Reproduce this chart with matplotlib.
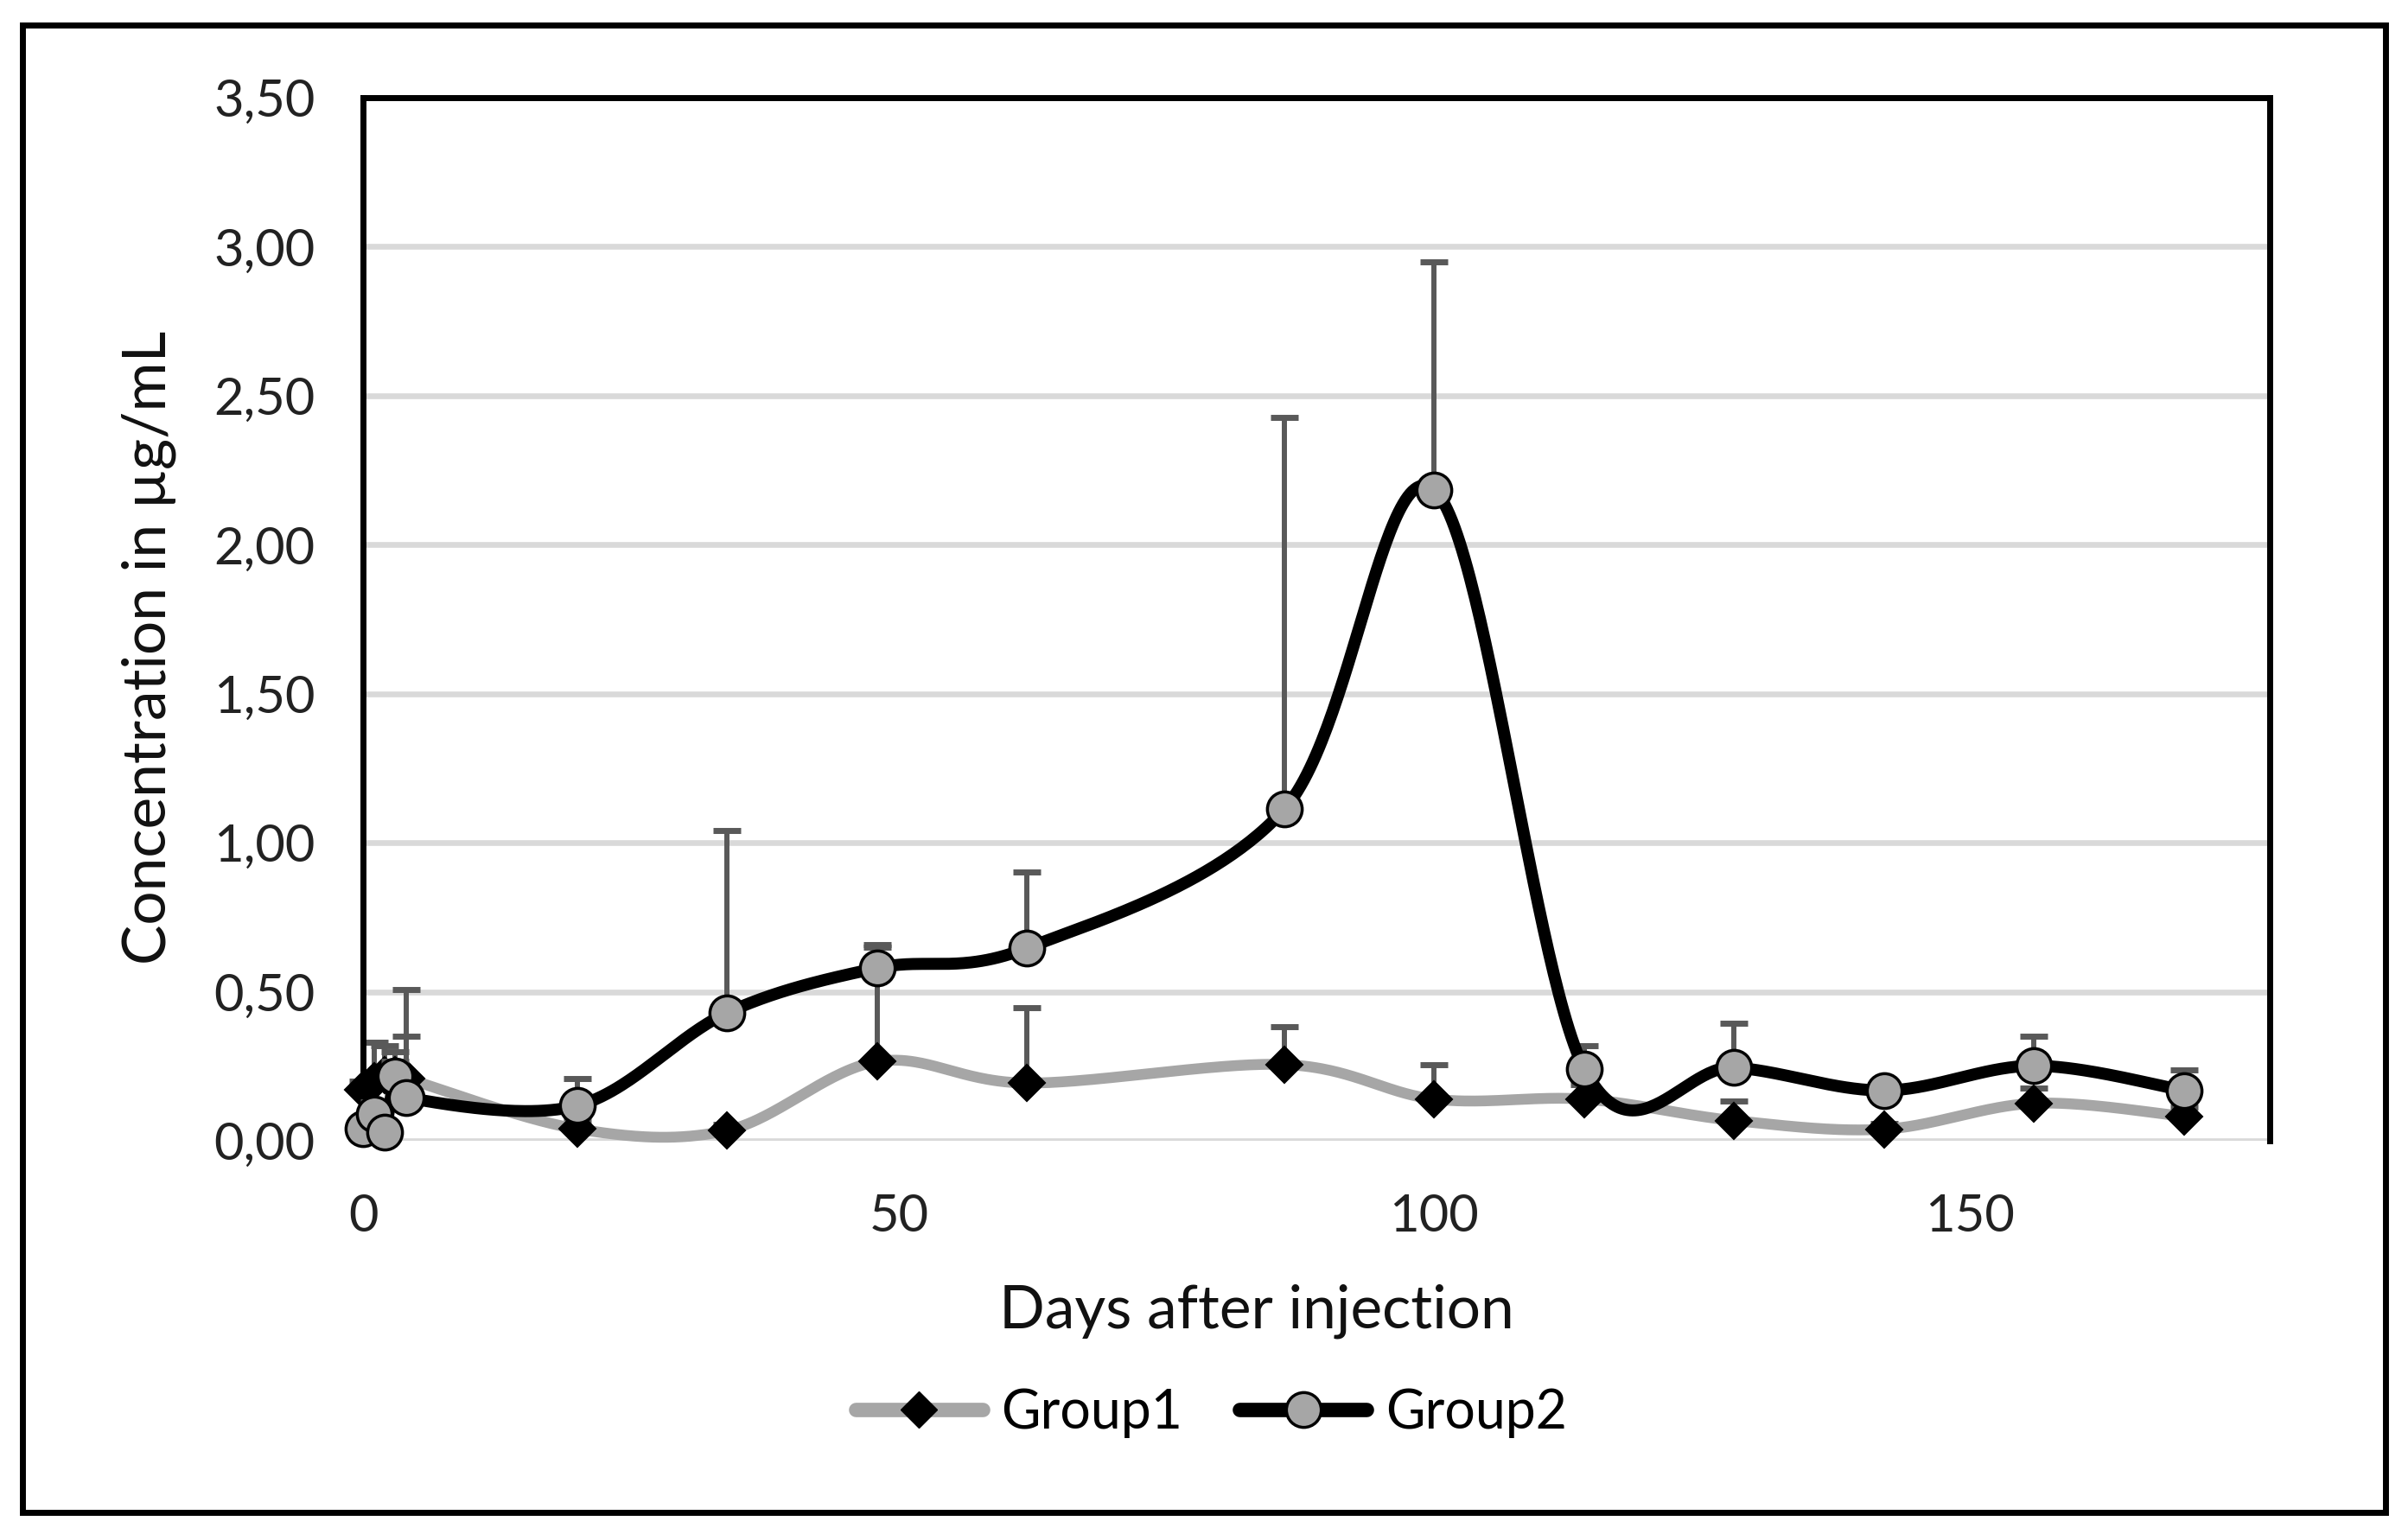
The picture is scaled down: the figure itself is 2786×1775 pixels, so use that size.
import numpy as np
import matplotlib
matplotlib.use("Agg")
import matplotlib.pyplot as plt
from matplotlib.lines import Line2D
from matplotlib.patches import Rectangle

# ---------------- data ----------------
days = [0, 1, 2, 3, 4, 20, 34, 48, 62, 86, 100, 114, 128, 142, 156, 170]
group1 = [0.17, 0.20, 0.22, 0.22, 0.21, 0.04, 0.035, 0.266, 0.194, 0.256,
          0.14, 0.14, 0.068, 0.039, 0.126, 0.082]
group1_err = [0.03, 0.13, 0.10, 0.08, 0.14, 0.03, 0.02, 0.392, 0.253, 0.126,
              0.116, 0.048, 0.065, 0.02, 0.05, 0.03]
group2 = [0.04, 0.09, 0.03, 0.217, 0.145, 0.118, 0.43, 0.58, 0.647, 1.113,
          2.184, 0.242, 0.246, 0.169, 0.252, 0.169]
group2_err = [0.02, 0.04, 0.02, 0.05, 0.362, 0.092, 0.61, 0.07, 0.254, 1.314,
              0.766, 0.077, 0.148, 0.03, 0.098, 0.068]
series_names = ["Group1", "Group2"]
y_ticks = [0.0, 0.5, 1.0, 1.5, 2.0, 2.5, 3.0, 3.5]
x_ticks = [0, 50, 100, 150]
x_label = "Days after injection"
y_label = "Concentration in µg/mL"

FONT = "Lato"
plt.rcParams["font.family"] = [FONT, "DejaVu Sans"]


def smooth_curve(x, y, n=60):
    """Excel-like smoothed line: Catmull-Rom converted to cubic Bezier."""
    x = np.asarray(x, float)
    y = np.asarray(y, float)
    P = np.column_stack([x, y])
    ext = np.vstack([P[0], P, P[-1]])
    t = np.linspace(0, 1, n)[:, None]
    pieces = []
    for i in range(len(P) - 1):
        p0, p1, p2, p3 = ext[i], ext[i + 1], ext[i + 2], ext[i + 3]
        c1 = p1 + (p2 - p0) / 6.0
        c2 = p2 - (p3 - p1) / 6.0
        seg = ((1 - t) ** 3) * p1 + 3 * ((1 - t) ** 2) * t * c1 + 3 * (1 - t) * t ** 2 * c2 + t ** 3 * p2
        pieces.append(seg if i == 0 else seg[1:])
    out = np.vstack(pieces)
    return out[:, 0], out[:, 1]


def upper_errorbars(ax, x, y, err, color, z):
    x = np.asarray(x, float)
    y = np.asarray(y, float)
    top = y + np.asarray(err, float)
    ax.vlines(x, y, top, colors=color, linewidth=4.3, zorder=z, clip_on=False)
    ax.plot(x, top, linestyle="none", marker="_", markersize=23.5, markeredgewidth=5,
            color=color, zorder=z, clip_on=False)


fig = plt.figure(figsize=(27.86, 17.75), dpi=100)
ax = fig.add_axes([0.1508, 0.2563, 0.7918, 0.6800])

g1_color = "#a6a6a6"
g2_color = "#000000"
err_color = "#595959"
marker_face2 = "#a6a6a6"

# Group1
upper_errorbars(ax, days, group1, group1_err, err_color, 2)
sx, sy = smooth_curve(days, group1)
ax.plot(sx, sy, color=g1_color, lw=9, solid_capstyle="round", zorder=3, clip_on=False)
ax.plot(days, group1, linestyle="none", marker="D", markersize=21, markerfacecolor="black",
        markeredgecolor="black", markeredgewidth=1.5, zorder=4, clip_on=False)

# Group2
upper_errorbars(ax, days, group2, group2_err, err_color, 5)
sx, sy = smooth_curve(days, group2)
ax.plot(sx, sy, color=g2_color, lw=10, solid_capstyle="round", zorder=6, clip_on=False)
ax.plot(days, group2, linestyle="none", marker="o", markersize=29, markerfacecolor=marker_face2,
        markeredgecolor="black", markeredgewidth=2.5, zorder=7, clip_on=False)

ax.set_xlim(0, 178)
ax.set_ylim(0, 3.5)
ax.set_yticks(y_ticks)
ax.set_yticklabels([f"{v:.2f}".replace(".", ",") for v in y_ticks])
ax.set_xticks(x_ticks)
ax.set_xticklabels([str(v) for v in x_ticks])
ax.tick_params(axis="y", length=0, pad=40, labelsize=43, labelcolor="#222222")
ax.tick_params(axis="x", length=0, pad=44, labelsize=43, labelcolor="#222222")

ax.yaxis.grid(True, color="#d9d9d9", lw=4.8)
ax.xaxis.grid(False)
ax.set_axisbelow(True)
for side in ["left", "top", "right"]:
    ax.spines[side].set_color("black")
    ax.spines[side].set_linewidth(5)
ax.spines["bottom"].set_visible(False)

fig.text(0.0617, 0.578, y_label, rotation=90, ha="center", va="center", fontsize=50, color="#111111")
fig.text(0.522, 0.1454, x_label, ha="center", va="center", fontsize=50, color="#111111")

handles = [
    Line2D([0], [0], color=g1_color, lw=12, marker="D", markersize=21, markerfacecolor="black",
           markeredgecolor="black", solid_capstyle="round"),
    Line2D([0], [0], color=g2_color, lw=12, marker="o", markersize=29, markerfacecolor=marker_face2,
           markeredgecolor="black", markeredgewidth=2.5, solid_capstyle="round"),
]
fig.legend(handles, series_names, loc="center", bbox_to_anchor=(0.503, 0.079), ncol=2,
           frameon=False, fontsize=45, handlelength=2.35, handletextpad=0.35,
           columnspacing=1.05)

fig.add_artist(Rectangle((0.00933, 0.01408), 0.9813, 0.9696, transform=fig.transFigure,
                         fill=False, edgecolor="black", lw=5))

fig.savefig("out.png", dpi=100, facecolor="white")
